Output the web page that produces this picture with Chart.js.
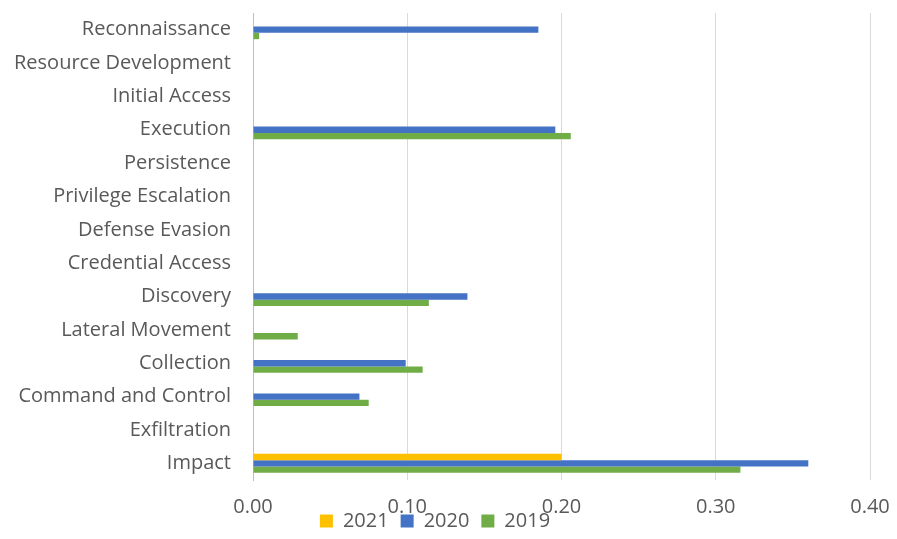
<!DOCTYPE html>
<html lang="en">
<head>
  <meta charset="UTF-8">
  <title>ATT&CK tactics by year</title>
  <script src="https://cdn.jsdelivr.net/npm/chart.js"></script>
  <style>
    body { margin: 0; background: #fff; }
    #wrap { width: 897px; height: 539px; }
  </style>
</head>
<body>
  <div id="wrap"><canvas id="tacticsChart" width="897" height="539"></canvas></div>

  <script>
    // tactic categories (top to bottom)
    const tactics = [
      'Reconnaissance', 'Resource Development', 'Initial Access', 'Execution',
      'Persistence', 'Privilege Escalation', 'Defense Evasion', 'Credential Access',
      'Discovery', 'Lateral Movement', 'Collection', 'Command and Control',
      'Exfiltration', 'Impact'
    ];
    const years = ['2021', '2020', '2019'];
    // values
    const values2021 = [0, 0, 0, 0, 0, 0, 0, 0, 0, 0, 0, 0, 0, 0.200];
    const values2020 = [0.185, 0, 0, 0.196, 0, 0, 0, 0, 0.139, 0, 0.099, 0.069, 0, 0.360];
    const values2019 = [0.004, 0, 0, 0.206, 0, 0, 0, 0, 0.114, 0.029, 0.110, 0.075, 0, 0.316];
    const xTicks = [0, 0.1, 0.2, 0.3, 0.4];

    const textColor = '#595959';
    const font = { family: '"Open Sans", sans-serif', size: 20 };

    new Chart(document.getElementById('tacticsChart').getContext('2d'), {
      type: 'bar',
      data: {
        labels: tactics,
        datasets: [
          { label: years[0], data: values2021, backgroundColor: '#FFC000' },
          { label: years[1], data: values2020, backgroundColor: '#4472C4' },
          { label: years[2], data: values2019, backgroundColor: '#70AD47' }
        ]
      },
      options: {
        indexAxis: 'y',
        responsive: false,
        animation: false,
        layout: { padding: { top: 13, right: 27, bottom: -2, left: 0 } },
        datasets: { bar: { categoryPercentage: 0.57, barPercentage: 1.0 } },
        plugins: {
          tooltip: { enabled: false },
          legend: {
            position: 'bottom',
            labels: {
              color: textColor,
              font: { family: font.family, size: 20, lineHeight: 1 },
              boxWidth: 13,
              boxHeight: 13,
              padding: 12
            }
          }
        },
        scales: {
          x: {
            min: 0,
            max: 0.4,
            afterBuildTicks: (axis) => { axis.ticks = xTicks.map(v => ({ value: v })); },
            // mirrored (no clipping) and pushed back below the plot with a negative padding
            ticks: {
              color: textColor,
              font: font,
              mirror: true,
              padding: -39,
              callback: (v) => Number(v).toFixed(2)
            },
            grid: { color: '#d9d9d9', drawTicks: false, lineWidth: 1 },
            border: { display: false },
            afterFit: (axis) => {
              axis.height = 19;
              axis.paddingLeft = 0;
              axis.paddingRight = 0;
            }
          },
          y: {
            ticks: { color: textColor, font: font, padding: 22 },
            grid: { display: false, drawTicks: false },
            border: { display: true, color: '#bfbfbf' },
            afterFit: (axis) => {
              axis.width = 253;
              axis.paddingTop = 0;
              axis.paddingBottom = 0;
            }
          }
        }
      }
    });
  </script>
</body>
</html>
